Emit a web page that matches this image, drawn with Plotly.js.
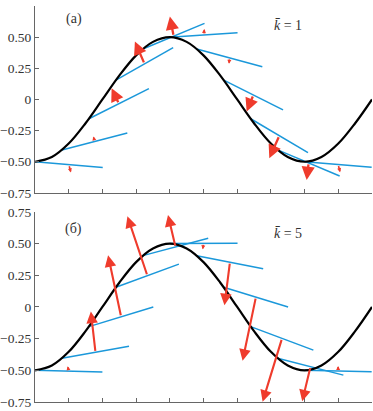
<!DOCTYPE html>
<html><head><meta charset="utf-8">
<script src="https://cdn.plot.ly/plotly-3.0.1.min.js"></script>
<style>html,body{margin:0;padding:0;background:#fff}#chart{width:373px;height:411px}</style>
</head><body><div id="chart"></div>
<script>
// Profile curve
const CURVE_X = [0,0.5,1,1.5,2,2.5,3,3.5,4,4.5,5,5.5,6,6.5,7,7.5,8,8.5,9,9.5,10];
const CURVE_Y = [-0.5,-0.462,-0.354,-0.191,0,0.191,0.354,0.462,0.5,0.462,0.354,0.191,0,-0.191,-0.354,-0.462,-0.5,-0.462,-0.354,-0.191,0];

// Ray segments: start points on the curve
const RAY_X0 = [0,0.8,1.6,2.4,3.2,4.0,4.8,5.6,6.4,7.2,8.0];
const RAY_Y0 = [-0.5,-0.405,-0.155,0.155,0.405,0.5,0.405,0.155,-0.155,-0.405,-0.5];
// Ray end points, panel (а) k=1
const RAY_X1_A = [2.01,2.74,3.38,4.10,5.03,6.01,6.745,7.36,8.10,9.04,9.99];
const RAY_Y1_A = [-0.547,-0.269,0.087,0.416,0.611,0.536,0.263,-0.084,-0.427,-0.614,-0.544];
// Ray end points, panel (б) k=5
const RAY_X1_B = [2.00,2.79,3.51,4.27,5.14,6.01,6.77,7.51,8.26,9.15,9.99];
const RAY_Y1_B = [-0.513,-0.31,0.0,0.338,0.542,0.503,0.301,0.0,-0.341,-0.538,-0.511];

// Arrow vectors (data units), drawn from ray midpoints
const ARROW_U_A = [0.059,-0.039,-0.217,-0.285,-0.113,0.024,-0.015,-0.199,-0.297,-0.059,0.059];
const ARROW_V_A = [-0.062,0.040,0.124,0.179,0.157,0.048,-0.048,-0.133,-0.181,-0.136,-0.062];
const ARROW_U_B = [-0.030,-0.137,-0.386,-0.593,-0.223,-0.030,-0.163,-0.395,-0.576,-0.246,0.0];
const ARROW_V_B = [0.039,0.321,0.485,0.469,0.252,-0.047,-0.340,-0.502,-0.500,-0.273,0.039];

const X_TICKS = [0,1,2,3,4,5,6,7,8,9,10];
const Y_TICKS = [-0.75,-0.5,-0.25,0,0.25,0.5,0.75];
const Y_TICK_TEXT = ['\u22120.75','\u22120.50','\u22120.25','0','0.25','0.50','0.75'];

const PANEL_LABELS = ['(\u0430)','(\u0431)'];
const PANEL_LABEL_X = [1.16,1.13];
const PANEL_LABEL_Y = [0.648,0.616];
const K_LABELS = ['<i>k\u0304</i> = 1','<i>k\u0304</i> = 5'];
const K_LABEL_X = [7.51,7.51];
const K_LABEL_Y = [0.594,0.582];

const BLUE = '#1b98da', RED = '#ef3b2c';
const PXX = 33.7, PXY = 125;

const traces = [];
const annotations = [];
const panels = [
  {x1: RAY_X1_A, y1: RAY_Y1_A, u: ARROW_U_A, v: ARROW_V_A, xa: 'x', ya: 'y', head: 1.15, w: 2.3},
  {x1: RAY_X1_B, y1: RAY_Y1_B, u: ARROW_U_B, v: ARROW_V_B, xa: 'x2', ya: 'y2', head: 1.1, w: 2.1}
];
panels.forEach((p, k) => {
  const lx = [], ly = [];
  for (let i = 0; i < RAY_X0.length; i++) {
    lx.push(RAY_X0[i], p.x1[i], null);
    ly.push(RAY_Y0[i], p.y1[i], null);
  }
  traces.push({x: lx, y: ly, xaxis: p.xa, yaxis: p.ya, mode: 'lines', line: {color: BLUE, width: 1.5}, hoverinfo: 'skip'});
  traces.push({x: CURVE_X, y: CURVE_Y, xaxis: p.xa, yaxis: p.ya, mode: 'lines', line: {color: '#000', width: 2.2, shape: 'spline'}, hoverinfo: 'skip'});
  for (let i = 0; i < RAY_X0.length; i++) {
    const mx = (RAY_X0[i] + p.x1[i]) / 2, my = (RAY_Y0[i] + p.y1[i]) / 2;
    const L = Math.hypot(p.u[i] * PXX, p.v[i] * PXY);
    const tiny = L < 12;
    annotations.push({
      xref: p.xa, yref: p.ya, axref: p.xa, ayref: p.ya,
      x: mx + p.u[i], y: my + p.v[i], ax: mx, ay: my,
      text: '', showarrow: true, arrowhead: 2,
      arrowsize: tiny ? 0.5 : p.head, arrowwidth: tiny ? 1.6 : p.w,
      arrowcolor: RED, standoff: 0
    });
  }
  annotations.push({xref: p.xa, yref: p.ya, x: PANEL_LABEL_X[k], y: PANEL_LABEL_Y[k], text: PANEL_LABELS[k], showarrow: false,
    font: {family: 'Liberation Serif', size: 14, color: '#333'}});
  annotations.push({xref: p.xa, yref: p.ya, x: K_LABEL_X[k], y: K_LABEL_Y[k], text: K_LABELS[k], showarrow: false,
    font: {family: 'Liberation Serif', size: 14, color: '#333'}});
});

const xax = (anchor) => ({anchor, domain: [0,1], range: [0,10], tickvals: X_TICKS, showticklabels: false, ticks: 'inside', ticklen: 4,
  tickcolor: '#666', showline: true, linecolor: '#666', linewidth: 1, showgrid: false, zeroline: false, fixedrange: true});
const yax = (anchor, domain) => ({anchor, domain, range: [-0.75,0.75], tickvals: Y_TICKS, ticktext: Y_TICK_TEXT, ticks: 'inside', ticklen: 4,
  tickcolor: '#666', showline: true, linecolor: '#666', linewidth: 1, showgrid: false, zeroline: false,
  tickfont: {family: 'Liberation Serif', size: 13.5, color: '#333'}, fixedrange: true});

const layout = {
  width: 373, height: 411, margin: {l: 35, r: 1, t: 6, b: 9},
  paper_bgcolor: '#fff', plot_bgcolor: '#fff', showlegend: false,
  xaxis: xax('y'), yaxis: yax('x', [0.528, 1]),
  xaxis2: xax('y2'), yaxis2: yax('x2', [0, 0.48]),
  annotations
};
Plotly.newPlot('chart', traces, layout, {displayModeBar: false, staticPlot: true});
</script></body></html>
